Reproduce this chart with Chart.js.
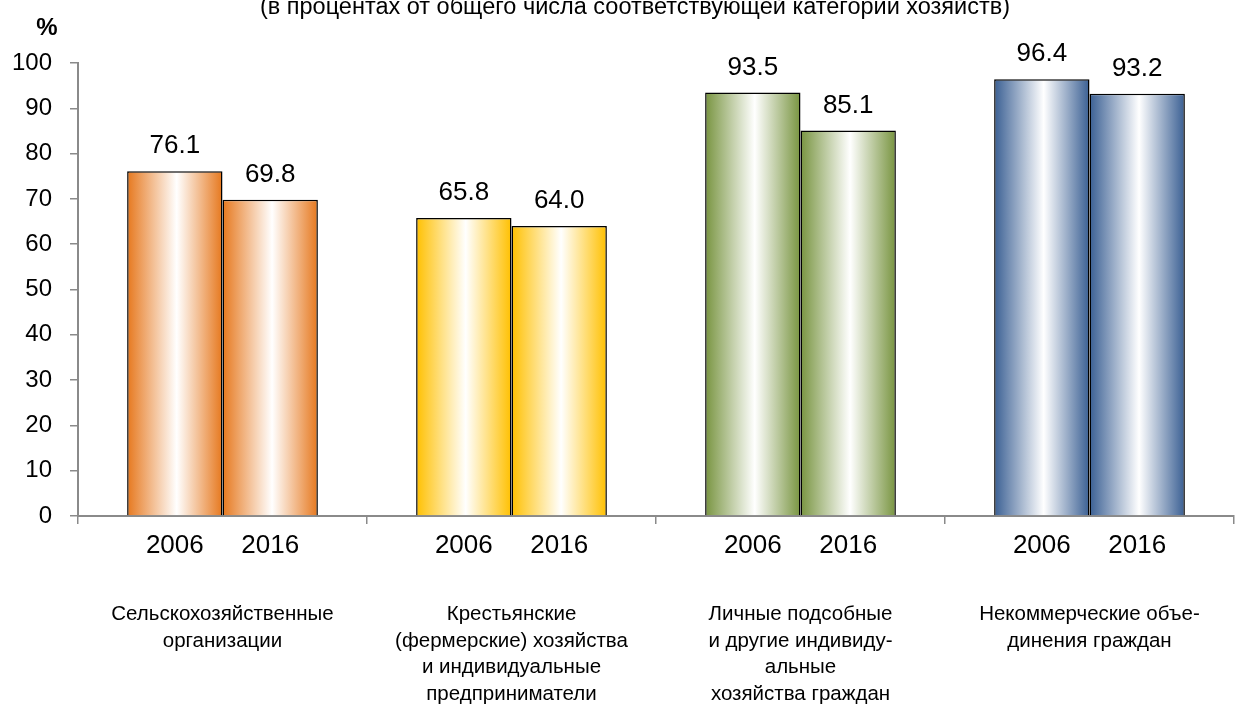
<!DOCTYPE html>
<html lang="ru">
<head>
<meta charset="utf-8">
<title>Хозяйства</title>
<script src="https://cdn.jsdelivr.net/npm/chart.js@4.4.1/dist/chart.umd.min.js"></script>
<style>
  html, body { margin: 0; padding: 0; background: #fff; }
  #wrap { width: 1244px; height: 708px; position: relative; }
</style>
</head>
<body>
<div id="wrap"><canvas id="chart"></canvas></div>
<script>
// данные графика
const categories = [
  ["Сельскохозяйственные", "организации"],
  ["Крестьянские", "(фермерские) хозяйства", "и индивидуальные", "предприниматели"],
  ["Личные подсобные", "и другие индивиду-", "альные", "хозяйства граждан"],
  ["Некоммерческие объе-", "динения граждан"]
];
const years = ["2006", "2016"];
const values2006 = [76.1, 65.8, 93.5, 96.4];
const values2016 = [69.8, 64.0, 85.1, 93.2];
const yTicks = [0, 10, 20, 30, 40, 50, 60, 70, 80, 90, 100];
const subtitle = "(в процентах от общего числа соответствующей категории хозяйств)";

const groupColors = ["#E6781E", "#FFC000", "#789440", "#3A5F93"];
const catPct = 0.66;
const FONT = '"Liberation Sans", Arial, sans-serif';

// градиент: цвет по краям, белый в середине столбца
function barFill(ctx) {
  const chart = ctx.chart;
  if (ctx.type !== 'data') return groupColors[0];
  const base = groupColors[ctx.dataIndex];
  const xs = chart.scales.x;
  if (!chart.chartArea || !xs) return base;
  const center = xs.getPixelForValue(ctx.dataIndex);
  const half = (xs.width / categories.length) * catPct / 2;
  const left = ctx.datasetIndex === 0 ? center - half : center;
  const g = chart.ctx.createLinearGradient(left, 0, left + half, 0);
  g.addColorStop(0, base);
  g.addColorStop(0.52, '#ffffff');
  g.addColorStop(1, base);
  return g;
}

// подписи значений, годы, заголовок и знак %
const textPlugin = {
  id: 'barTexts',
  afterDatasetsDraw(chart) {
    const c = chart.ctx;
    const xs = chart.scales.x;
    c.save();
    c.fillStyle = '#000';
    c.textAlign = 'center';
    c.textBaseline = 'middle';
    c.font = '26px ' + FONT;
    chart.data.datasets.forEach((ds, di) => {
      chart.getDatasetMeta(di).data.forEach((bar, i) => {
        c.fillText(ds.data[i].toFixed(1), bar.x, bar.y - 25);
        c.fillText(ds.label, bar.x, xs.top + 30);
      });
    });
    c.font = '23.5px ' + FONT;
    c.textBaseline = 'alphabetic';
    c.fillText(subtitle, 635, 14);
    c.font = 'bold 24px ' + FONT;
    c.textBaseline = 'middle';
    c.fillText('%', 47, 28);
    c.restore();
  }
};

const axisGray = '#8a8a8a';

function makeDataset(label, data) {
  return {
    label: label,
    data: data,
    categoryPercentage: catPct,
    barPercentage: 1.0,
    backgroundColor: barFill,
    borderColor: '#000',
    borderWidth: 1.5
  };
}

new Chart(document.getElementById('chart'), {
  type: 'bar',
  data: {
    labels: categories,
    datasets: [
      makeDataset(years[0], values2006),
      makeDataset(years[1], values2016)
    ]
  },
  options: {
    responsive: true,
    maintainAspectRatio: false,
    animation: false,
    layout: { padding: { top: 63, right: 10, left: 0, bottom: 0 } },
    plugins: {
      colors: { enabled: false },
      legend: { display: false },
      title: { display: false },
      tooltip: { enabled: false }
    },
    scales: {
      x: {
        grid: { drawOnChartArea: false, drawTicks: true, tickLength: 8, color: axisGray, lineWidth: 1.5, offset: true },
        border: { color: axisGray, width: 2 },
        ticks: {
          color: '#000',
          maxRotation: 0,
          autoSkip: false,
          padding: 77,
          font: { family: FONT, size: 20.5, lineHeight: 1.3 }
        },
        afterFit(scale) {
          scale.height = 192;
          scale.paddingLeft = 0;
          scale.paddingRight = 0;
        }
      },
      y: {
        min: 0,
        max: 100,
        grid: { drawOnChartArea: false, drawTicks: true, tickLength: 8, color: axisGray, lineWidth: 1.5 },
        border: { color: axisGray, width: 2 },
        ticks: {
          color: '#000',
          padding: 18,
          font: { family: FONT, size: 24 }
        },
        afterBuildTicks(scale) { scale.ticks = yTicks.map(v => ({ value: v })); },
        afterFit(scale) { scale.width = 78; }
      }
    }
  },
  plugins: [textPlugin]
});
</script>
</body>
</html>
